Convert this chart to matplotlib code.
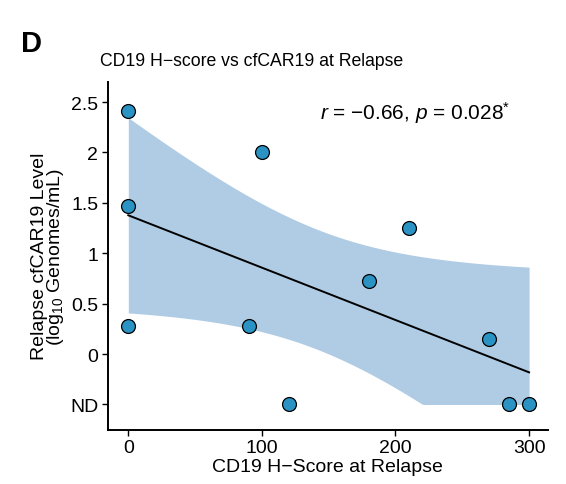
"""
CD19 H-score vs cfCAR19 at relapse - scatter with linear fit and 95% CI
"""
import numpy as np
import matplotlib
matplotlib.use('Agg')
import matplotlib.pyplot as plt

plt.rcParams['font.family'] = ['Liberation Sans', 'DejaVu Sans']
plt.rcParams['mathtext.fontset'] = 'custom'
plt.rcParams['mathtext.it'] = 'Liberation Sans:italic'
plt.rcParams['mathtext.rm'] = 'Liberation Sans'

ND = -0.5  # "not detected" plotted below zero

h_score = [0, 0, 0, 90, 100, 120, 180, 210, 270, 285, 300]
cfcar19 = [2.41, 1.47, 0.28, 0.28, 2.0, ND, 0.73, 1.25, 0.15, ND, ND]

y_ticks = [ND, 0, 0.5, 1, 1.5, 2, 2.5]
y_tick_labels = ['ND', '0', '0.5', '1', '1.5', '2', '2.5']
x_ticks = [0, 100, 200, 300]

point_color = '#2A93C4'
band_color = '#AFCCE4'


def fit_with_ci(x, y, xs):
    """Linear fit plus 95% confidence band (like geom_smooth(method='lm'))."""
    x = np.asarray(x, float)
    y = np.asarray(y, float)
    n = len(x)
    slope, intercept = np.polyfit(x, y, 1)
    resid = y - (intercept + slope * x)
    s = np.sqrt(np.sum(resid ** 2) / (n - 2))
    sxx = np.sum((x - x.mean()) ** 2)
    se = s * np.sqrt(1.0 / n + (xs - x.mean()) ** 2 / sxx)
    t = 2.262  # t(0.975, df=9)
    fit = intercept + slope * xs
    return fit, fit - t * se, fit + t * se


fig = plt.figure(figsize=(5.66, 4.85), dpi=100)
ax = fig.add_axes([0.1908, 0.112, 0.777, 0.717])

xs = np.linspace(min(h_score), max(h_score), 200)
fit, lo, hi = fit_with_ci(h_score, cfcar19, xs)
lo = np.clip(lo, ND, None)

ax.fill_between(xs, lo, hi, color=band_color, linewidth=0, zorder=1)
ax.plot(xs, fit, color='black', linewidth=1.4, zorder=2)
ax.scatter(h_score, cfcar19, s=100, c=point_color, edgecolors='black',
           linewidths=0.9, zorder=3)

ax.set_xlim(-15.2, 314)
ax.set_ylim(-0.75, 2.70)
ax.set_xticks(x_ticks)
ax.set_yticks(y_ticks)
ax.set_yticklabels(y_tick_labels)
ax.tick_params(labelsize=14, length=4, width=1, colors='black', pad=3)

for side in ['top', 'right']:
    ax.spines[side].set_visible(False)
for side in ['left', 'bottom']:
    ax.spines[side].set_linewidth(1.4)

ax.set_xlabel('CD19 H\u2212Score at Relapse', fontsize=14, labelpad=1)
ax.set_ylabel('Relapse cfCAR19 Level\n(log$_{10}$ Genomes/mL)', fontsize=14,
              linespacing=0.8, labelpad=3)

ax.text(0.915, 0.912, '$r$ = \u22120.66, $p$ = 0.028$^{*}$', transform=ax.transAxes,
        fontsize=15, ha='right', va='center')

fig.text(100 / 566, 1 - 62 / 485, 'CD19 H\u2212score vs cfCAR19 at Relapse',
         fontsize=12.7, ha='left', va='center')
fig.text(21 / 566, 1 - 44 / 485, 'D', fontsize=21, fontweight='bold',
         ha='left', va='center')

fig.savefig('out.png', dpi=100, facecolor='white')
